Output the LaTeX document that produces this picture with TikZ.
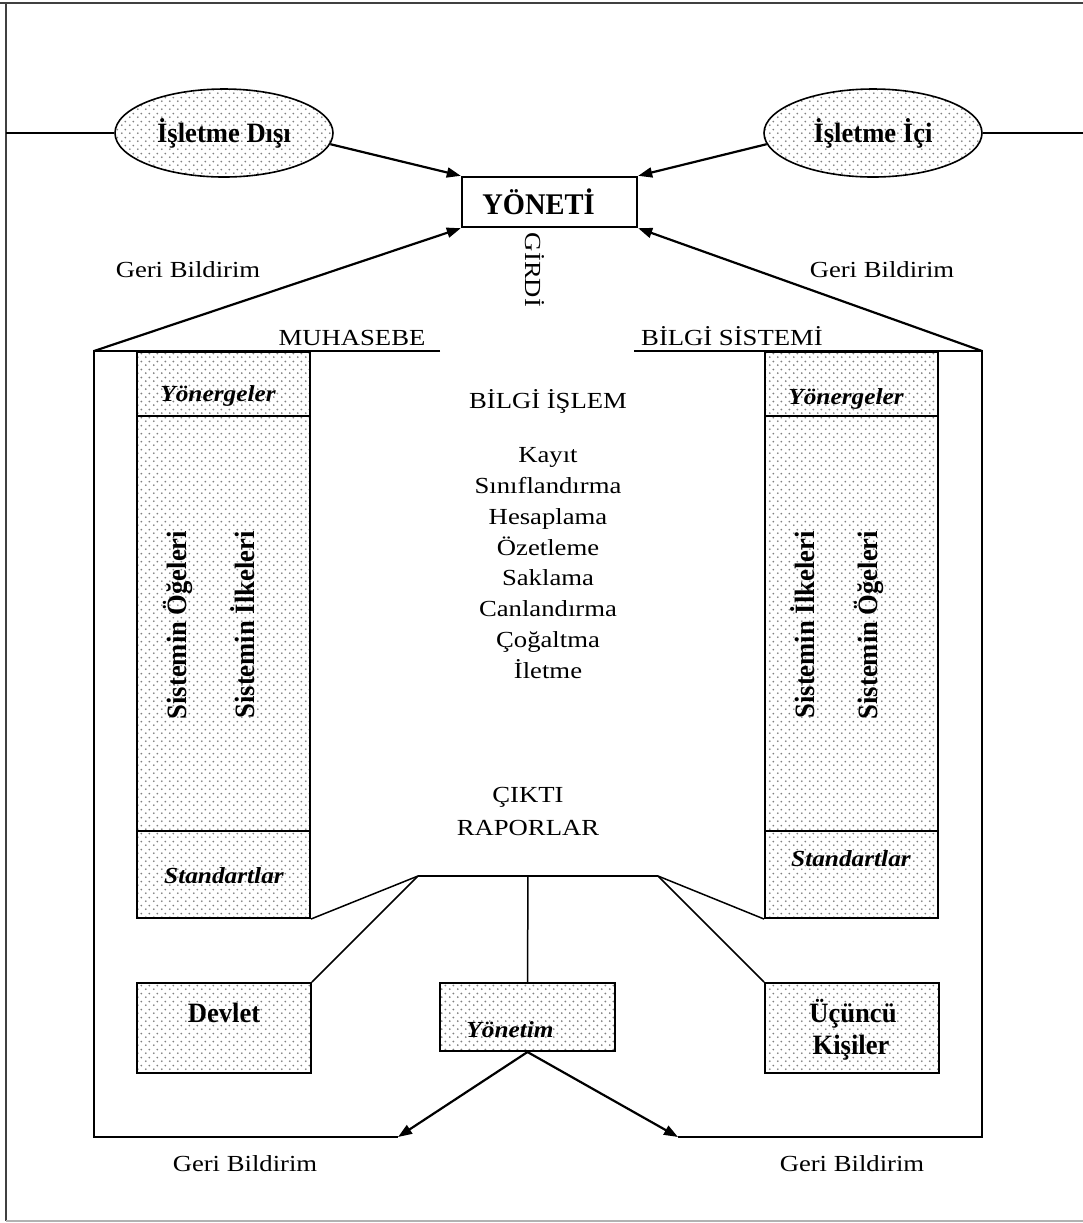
\documentclass[tikz,border=0pt]{standalone}
\usepackage{fontspec}
\setmainfont{Liberation Serif}[
  UprightFeatures={FakeStretch=1.16},
  BoldFeatures={FakeStretch=0.95},
  BoldItalicFeatures={FakeStretch=1.1}]
\usetikzlibrary{arrows.meta,shapes.geometric,patterns}
\pgfdeclarepatternformonly{mydots}{\pgfqpoint{0pt}{0pt}}{\pgfqpoint{4pt}{4pt}}{\pgfqpoint{4pt}{4pt}}{%
  \pgfpathcircle{\pgfqpoint{1pt}{1pt}}{0.55pt}%
  \pgfpathcircle{\pgfqpoint{3pt}{3pt}}{0.55pt}%
  \pgfusepath{fill}}
\begin{document}
\begin{tikzpicture}[x=0.5pt,y=-0.5pt,
  txt/.style={font=\fontsize{11.5}{14}\selectfont, inner sep=0},
  btxt/.style={font=\fontsize{14}{16}\selectfont\bfseries, inner sep=0},
  bitxt/.style={font=\fontsize{11.5}{14}\selectfont\bfseries\itshape, inner sep=0},
  dotfill/.style={pattern=mydots, pattern color=black!50},
  ell/.style={ellipse, draw, line width=0.8pt, dotfill, minimum width=109pt, minimum height=44pt, inner sep=0, font=\fontsize{14}{16}\selectfont\bfseries},
  colbox/.style={rectangle, draw, line width=1pt, dotfill, minimum width=86.5pt, inner sep=0},
  botbox/.style={rectangle, draw, line width=1pt, dotfill, inner sep=0},
  arr/.style={line width=1.1pt, -{Triangle[length=7pt,width=5pt]}},
  thin/.style={line width=0.75pt}]
\useasboundingbox (0,0) rectangle (1083,1223);
% frame
\draw[line width=1pt, black!75] (0,3) -- (1083,3);
\draw[line width=1pt, black!75] (6,3) -- (6,1221);
\draw[line width=0.8pt, black!30] (6,1221) -- (1083,1221);
% top
\node[ell] (ext) at (224,133) {İşletme Dışı};
\node[ell] (int) at (873,133) {İşletme İçi};
\coordinate (fl) at (6,133);
\coordinate (fr) at (1083,133);
\draw[thin] (fl) -- (ext.west);
\draw[thin] (int.east) -- (fr);
\node[draw, line width=1.2pt, minimum width=87.5pt, minimum height=25pt, inner sep=0,
      font=\fontsize{15}{17}\selectfont\bfseries] (yon) at (549.5,202) {YÖNETİ\hspace*{11pt}};
\draw[arr] (ext.-6) -- (yon.north west);
\draw[arr] (int.186) -- (yon.north east);
\node[txt, rotate=-90] (girdi) at (535,270) {GİRDİ};
\node[txt, anchor=base] (gb1) at (188,277) {Geri Bildirim};
\node[txt, anchor=base] (gb2) at (882,277) {Geri Bildirim};
% outer system
\coordinate (L1) at (94,351);
\coordinate (R1) at (982,351);
\coordinate (L2) at (94,1137);
\coordinate (R2) at (982,1137);
\coordinate (fbL) at (398,1137);
\coordinate (fbR) at (678,1137);
\coordinate (uL) at (440,351);
\coordinate (uR) at (634,351);
\draw[arr] (L1) -- (yon.south west);
\draw[arr] (R1) -- (yon.south east);
\draw[thin] (uL) -- (L1) -- (L2) -- (fbL);
\draw[thin] (uR) -- (R1) -- (R2) -- (fbR);
\node[txt, anchor=base] (muh) at (352,345) {MUHASEBE};
\node[txt, anchor=base] (bs) at (732,345) {BİLGİ SİSTEMİ};
% left column
\node[colbox, minimum height=32pt] (la) at (223.5,384) {};
\node[colbox, minimum height=207.5pt] (lb) at (223.5,623.5) {};
\node[colbox, minimum height=43.5pt] (lc) at (223.5,874.5) {};
\node[bitxt, anchor=base] (lat) at (218,401) {Yönergeler};
\node[btxt, rotate=90] (lb1) at (178,625) {Sistemin Öğeleri};
\node[btxt, rotate=90] (lb2) at (243,625) {Sistemin İlkeleri};
\node[bitxt, anchor=base] (lct) at (224,883) {Standartlar};
% right column
\node[colbox, minimum height=32pt] (ra) at (851.5,384) {};
\node[colbox, minimum height=207.5pt] (rb) at (851.5,623.5) {};
\node[colbox, minimum height=43.5pt] (rc) at (851.5,874.5) {};
\node[bitxt, anchor=base] (rat) at (846,404) {Yönergeler};
\node[btxt, rotate=90] (rb1) at (803,625) {Sistemin İlkeleri};
\node[btxt, rotate=90] (rb2) at (869,625) {Sistemin Öğeleri};
\node[bitxt, anchor=base] (rct) at (851,866) {Standartlar};
% center text
\node[txt, anchor=base] (bi) at (548,408) {BİLGİ İŞLEM};
\node[txt, anchor=base] (k1) at (548,462) {Kayıt};
\node[txt, anchor=base] (k2) at (548,493) {Sınıflandırma};
\node[txt, anchor=base] (k3) at (548,524) {Hesaplama};
\node[txt, anchor=base] (k4) at (548,555) {Özetleme};
\node[txt, anchor=base] (k5) at (548,585) {Saklama};
\node[txt, anchor=base] (k6) at (548,616) {Canlandırma};
\node[txt, anchor=base] (k7) at (548,647) {Çoğaltma};
\node[txt, anchor=base] (k8) at (548,678) {İletme};
\node[txt, anchor=base] (ck) at (528,802) {ÇIKTI};
\node[txt, anchor=base] (rp) at (528,835) {RAPORLAR};
% bottom boxes
\node[botbox, minimum width=87pt, minimum height=45pt] (dev) at (224,1028) {};
\node[botbox, minimum width=87.5pt, minimum height=34pt] (ytm) at (527.5,1017) {};
\node[botbox, minimum width=87pt, minimum height=45pt] (ucu) at (852,1028) {};
\node[btxt, anchor=base] (devt) at (224,1022) {Devlet};
\node[bitxt, anchor=base] (ytmt) at (510,1037) {Yönetim};
\node[btxt, anchor=base] (ucu1) at (853,1022) {Üçüncü};
\node[btxt, anchor=base] (ucu2) at (851,1054) {Kişiler};
% hub
\coordinate (hL) at (418,876);
\coordinate (hM) at (528,876);
\coordinate (hR) at (658,876);
\draw[thin] (hL) -- (hR);
\draw[thin] (hL) -- (lc.south east);
\draw[thin] (hL) -- (dev.north east);
\draw[thin] (hM) -- (ytm.north);
\draw[thin] (hR) -- (rc.south west);
\draw[thin] (hR) -- (ucu.north west);
\draw[arr] (ytm.south) -- (fbL);
\draw[arr] (ytm.south) -- (fbR);
\node[txt, anchor=base] (gb3) at (245,1171) {Geri Bildirim};
\node[txt, anchor=base] (gb4) at (852,1171) {Geri Bildirim};
\end{tikzpicture}
\end{document}
